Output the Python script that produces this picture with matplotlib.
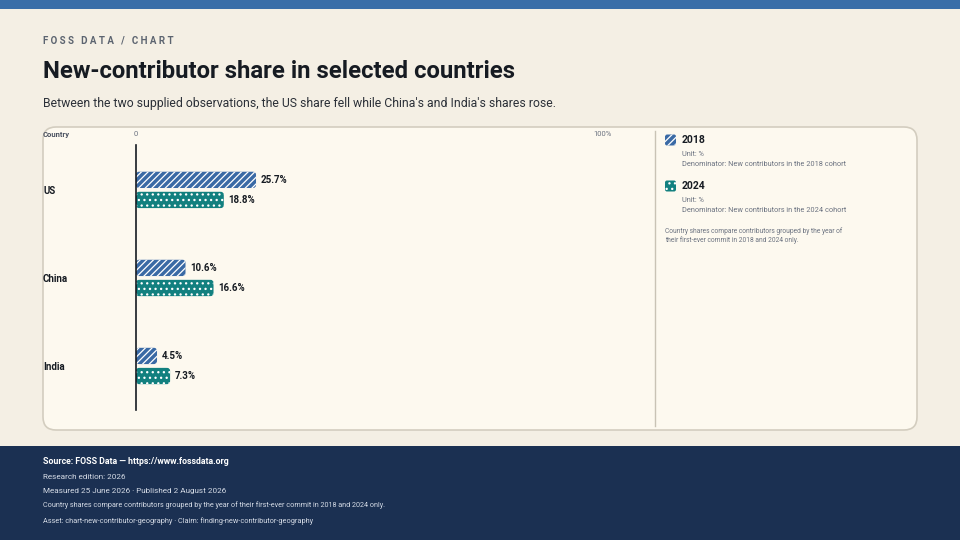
"""New-contributor share by country, 2018 vs 2024."""

import matplotlib.pyplot as plt
import matplotlib.transforms as mtransforms
from matplotlib.patches import FancyBboxPatch, Rectangle

plt.rcParams.update(
    {
        "font.family": ["Roboto", "DejaVu Sans"],
        "hatch.linewidth": 0.9,
    }
)

countries = ["US", "China", "India"]
share_2018 = [25.7, 10.6, 4.5]
share_2024 = [18.8, 16.6, 7.3]
series_names = ["2018", "2024"]
denominators = [
    "Denominator: New contributors in the 2018 cohort",
    "Denominator: New contributors in the 2024 cohort",
]

BG = "#f4efe4"
PANEL = "#fdf9ef"
BLUE = "#3a6aa5"
TEAL = "#12807f"
NAVY = "#1b3052"
INK = "#161b22"
GREY = "#6b7280"
FOOT = "#d5dbe6"
HATCH_2018 = "/////"
HATCH_2024 = "..."

fig = plt.figure(figsize=(9.6, 5.4), dpi=100, facecolor=BG)

# full-figure overlay in pixel coordinates for decoration
bg = fig.add_axes([0, 0, 1, 1], zorder=0)
bg.set_xlim(0, 960)
bg.set_ylim(540, 0)
bg.axis("off")

bg.add_patch(Rectangle((0, 0), 960, 9, color="#3a6ea8", lw=0))
bg.add_patch(Rectangle((0, 446), 960, 94, color=NAVY, lw=0))
bg.add_patch(
    FancyBboxPatch(
        (43, 127), 874, 303,
        boxstyle="round,pad=0,rounding_size=13",
        facecolor=PANEL, edgecolor="#d3cdbf", lw=1.2,
    )
)
bg.plot([655, 655], [131, 426], color="#c9c3b5", lw=1)

bg.text(43, 40, "F O S S   D A T A   /   C H A R T", fontsize=7, fontweight="bold",
        color="#5c6470", va="center")
bg.text(43, 72, "New-contributor share in selected countries", fontsize=17.2,
        fontweight="bold", color=INK, va="center")
bg.text(43, 103, "Between the two supplied observations, the US share fell while "
        "China's and India's shares rose.", fontsize=8.8, color="#2b3038", va="center")

# legend in side panel
swatch = [dict(facecolor=BLUE, hatch=HATCH_2018), dict(facecolor=TEAL, hatch=HATCH_2024)]
for i, (name, denom) in enumerate(zip(series_names, denominators)):
    y0 = 140 + i * 46
    bg.add_patch(
        FancyBboxPatch(
            (665, y0 - 5.5), 11, 11,
            boxstyle="round,pad=0,rounding_size=2",
            edgecolor="white", lw=0, **swatch[i],
        )
    )
    bg.text(682, y0, name, fontsize=7.5, fontweight="bold", color=INK, va="center")
    bg.text(682, y0 + 14, "Unit: %", fontsize=5.3, color=GREY, va="center")
    bg.text(682, y0 + 25, denom, fontsize=5.3, color=GREY, va="center")
bg.text(665, 231, "Country shares compare contributors grouped by the year of",
        fontsize=4.8, color=GREY, va="center")
bg.text(665, 240, "their first-ever commit in 2018 and 2024 only.",
        fontsize=4.8, color=GREY, va="center")

# footer
footer = [
    (461, "Source: FOSS Data \u2014 https://www.fossdata.org", 6.3, "bold", "white"),
    (477, "Research edition: 2026", 5.9, "normal", FOOT),
    (491, "Measured 25 June 2026 \u00b7 Published 2 August 2026", 5.9, "normal", FOOT),
    (505, "Country shares compare contributors grouped by the year of their "
          "first-ever commit in 2018 and 2024 only.", 5.25, "normal", FOOT),
    (521, "Asset: chart-new-contributor-geography \u00b7 Claim: "
          "finding-new-contributor-geography", 5.35, "normal", FOOT),
]
for y, txt, size, weight, color in footer:
    bg.text(43, y, txt, fontsize=size, fontweight=weight, color=color, va="center")

# chart axes
ax_w_px, ax_h_px = 603 - 136, 265
ax = fig.add_axes([136 / 960, 1 - 410 / 540, ax_w_px / 960, ax_h_px / 540], zorder=1)
ax.patch.set_alpha(0)
ax.set_xlim(0, 100)
ax.set_ylim(2.5, -0.51)
for side in ["top", "right", "bottom"]:
    ax.spines[side].set_visible(False)
ax.spines["left"].set_color(INK)
ax.spines["left"].set_linewidth(1.2)
ax.spines["left"].set_zorder(5)
ax.set_yticks([])
ax.xaxis.tick_top()
ax.set_xticks([0, 100])
ax.set_xticklabels(["0", "100%"], fontsize=5.5, color=GREY)
ax.tick_params(axis="x", length=0, pad=6)

ypos = list(range(len(countries)))
off, h = 0.114, 0.185
b1 = ax.barh([y - off for y in ypos], share_2018, height=h, color=BLUE,
             edgecolor="white", lw=0, hatch=HATCH_2018)
b2 = ax.barh([y + off for y in ypos], share_2024, height=h, color=TEAL,
             edgecolor="white", lw=0, hatch=HATCH_2024)

# swap the square bars for rounded ones of the same geometry
px_per_x = ax_w_px / 100
px_per_y = ax_h_px / 3.01
for bars, col, hatch in [(b1, BLUE, HATCH_2018), (b2, TEAL, HATCH_2024)]:
    for rect in bars:
        rect.set_visible(False)
        ax.add_patch(
            FancyBboxPatch(
                (rect.get_x(), rect.get_y()), rect.get_width(), rect.get_height(),
                boxstyle=f"round,pad=0,rounding_size={3 / px_per_x:.3f}",
                mutation_aspect=px_per_x / px_per_y,
                facecolor=col, edgecolor="white", lw=0, hatch=hatch, zorder=2,
            )
        )

for bars, vals in [(b1, share_2018), (b2, share_2024)]:
    for rect, v in zip(bars, vals):
        ax.annotate(f"{v:.1f}%", (v, rect.get_y() + rect.get_height() / 2),
                    xytext=(3.5, 0), textcoords="offset points", va="center",
                    fontsize=7, fontweight="bold", color=INK)

trans = mtransforms.blended_transform_factory(fig.transFigure, ax.transData)
for y, name in zip(ypos, countries):
    ax.text(43 / 960, y + 0.01, name, transform=trans, fontsize=7,
            fontweight="bold", color=INK, va="center")
fig.text(43 / 960, 1 - 134 / 540, "Country", fontsize=5.5, fontweight="bold",
         color="#4b5260", va="center")

fig.savefig("out.png", dpi=100, facecolor=BG)
